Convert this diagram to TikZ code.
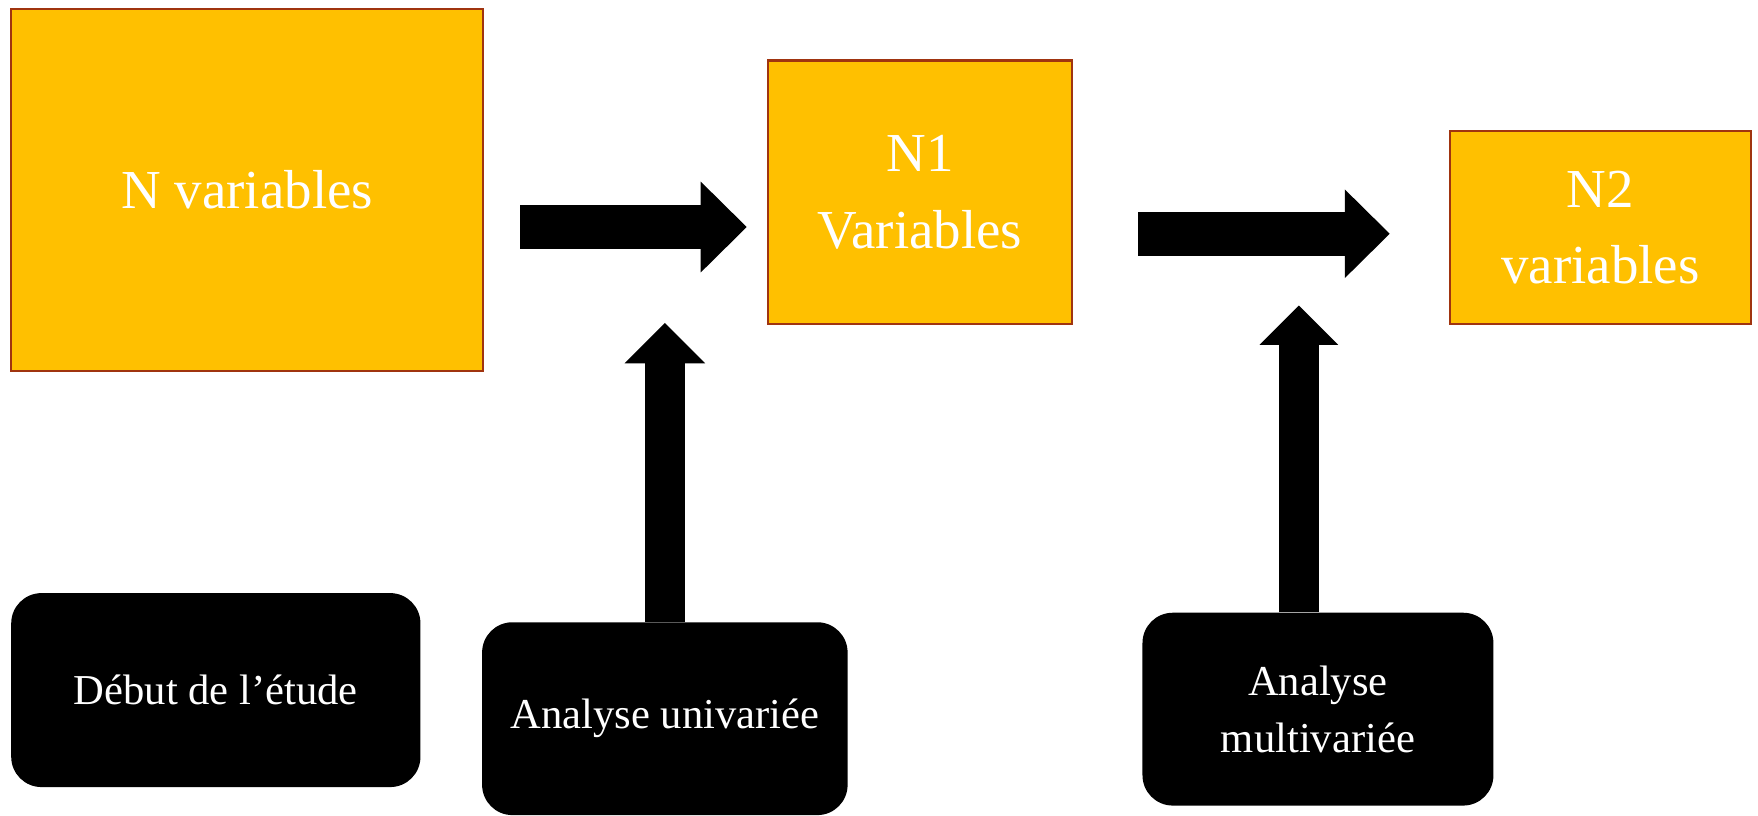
\documentclass[tikz,border=0pt]{standalone}
\usepackage{fontspec}
\setmainfont{Liberation Serif}
\usetikzlibrary{arrows.meta}
\definecolor{gold}{RGB}{255,192,0}
\definecolor{brd}{RGB}{160,52,15}
\tikzset{
  obox/.style={draw=brd, fill=gold, line width=1pt, text=white, inner sep=0pt,
    align=center, font=\fontsize{24.5}{34}\selectfont},
  sbox/.style={fill=black, rounded corners=13.5pt, text=white, inner sep=0pt,
    align=center, font=\fontsize{19}{25.5}\selectfont},
  barrow/.style={line width=#1, draw=black},
}
\begin{document}
\begin{tikzpicture}[x=0.5pt, y=-0.5pt]
\useasboundingbox (0,0) rectangle (1568,727);
% orange boxes
\node[obox, minimum width=210.5pt, minimum height=161.5pt] (b0) at (220.5,169.5) {N variables};
\node[obox, minimum width=135.5pt, minimum height=117.5pt] (n1) at (820.5,171.5) {N1\\Variables};
\node[obox, minimum width=134.5pt, minimum height=86pt] (n2) at (1427.5,203) {N2\\variables};
% black boxes
\node[sbox, minimum width=182.5pt, minimum height=86.5pt] (s0) at (192.5,615.5) {Début de l’étude};
\node[sbox, minimum width=163pt, minimum height=86pt] (s1) at (593,641) {Analyse univariée};
\node[sbox, minimum width=156.5pt, minimum height=86pt] (s2) at (1175.5,632.5) {Analyse\\multivariée};
% block arrows
\draw[barrow=19.5pt, -{Triangle[length=20.5pt, width=40.5pt, line width=0pt]},
  shorten <=16pt, shorten >=9pt]
  ([yshift=-16.5pt]b0.east) -- ([yshift=-15.5pt]n1.west);
\draw[barrow=19.5pt, -{Triangle[length=20pt, width=39.5pt, line width=0pt]},
  shorten <=29pt, shorten >=26.25pt]
  ([yshift=-18.5pt]n1.east) -- ([yshift=-2.75pt]n2.west);
\draw[barrow=18pt, -{Triangle[length=18pt, width=36pt, line width=0pt]},
  shorten >=-1pt]
  (s1.north) -- (s1.north |- n1.south);
\draw[barrow=17.5pt, -{Triangle[length=17.5pt, width=35pt, line width=0pt]},
  shorten >=-8.75pt]
  ([xshift=-8.5pt]s2.north) -- ([xshift=-8.5pt]s2.north |- n2.south);
\end{tikzpicture}
\end{document}
